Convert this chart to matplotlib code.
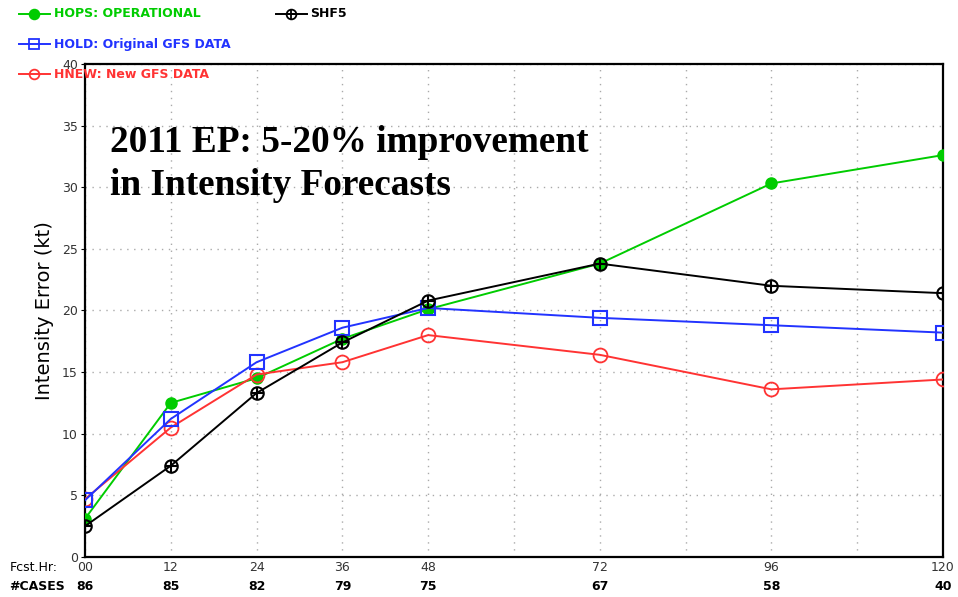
import matplotlib
matplotlib.use("Agg")
import matplotlib.pyplot as plt
import matplotlib.transforms as mtransforms
from matplotlib.lines import Line2D

# forecast hours and verification sample sizes
fcst_hr = [0, 12, 24, 36, 48, 72, 96, 120]
hr_labels = ["00", "12", "24", "36", "48", "72", "96", "120"]
n_cases = [86, 85, 82, 79, 75, 67, 58, 40]

# mean intensity error (kt) per model
hops = [3.1, 12.5, 14.5, 17.7, 20.1, 23.8, 30.3, 32.6]
hold = [4.6, 11.2, 15.8, 18.6, 20.2, 19.4, 18.8, 18.2]
hnew = [4.7, 10.5, 14.8, 15.8, 18.0, 16.4, 13.6, 14.4]
shf5 = [2.5, 7.4, 13.3, 17.4, 20.8, 23.8, 22.0, 21.4]

GREEN = "#00cc00"
BLUE = "#2233ff"
RED = "#ff3333"

fig = plt.figure(figsize=(9.58, 5.97), dpi=100)
ax = fig.add_axes([0.0887, 0.067, 0.8956, 0.826])

ax.plot(fcst_hr, hops, color=GREEN, lw=1.4, marker="o", ms=8,
        mfc=GREEN, mec=GREEN, zorder=3)
ax.plot(fcst_hr, hold, color=BLUE, lw=1.4, marker="s", ms=10,
        mfc="none", mec=BLUE, mew=1.5, zorder=4)
ax.plot(fcst_hr, hnew, color=RED, lw=1.4, marker="o", ms=10,
        mfc="none", mec=RED, mew=1.3, zorder=3)
ax.plot(fcst_hr, shf5, color="black", lw=1.4, marker="o", ms=9,
        mfc="none", mec="black", mew=1.5, zorder=5)
ax.plot(fcst_hr, shf5, ls="none", marker="+", ms=9, mec="black",
        mew=1.5, zorder=5)

ax.set_xlim(0, 120)
ax.set_ylim(0, 40)
ax.set_xticks(range(0, 121, 12))
ax.set_xticklabels([])
ax.set_yticks(range(0, 41, 5))
ax.set_yticklabels([str(v) for v in range(0, 41, 5)], fontsize=9,
                   color="#333333")
ax.tick_params(axis="x", length=0)
ax.tick_params(axis="y", length=3, pad=2)
ax.grid(True, color="#aaaaaa", ls=(0, (1, 4)), lw=1)
for sp in ax.spines.values():
    sp.set_linewidth(1.6)
ax.set_ylabel("Intensity Error (kt)", fontsize=14, labelpad=6)

# forecast hour / sample size rows under the axis
row_tf = mtransforms.blended_transform_factory(ax.transData, fig.transFigure)
for h, lab, n in zip(fcst_hr, hr_labels, n_cases):
    ax.text(h, 0.050, lab, ha="center", va="center", fontsize=9,
            color="#333333", transform=row_tf, clip_on=False)
    ax.text(h, 0.018, str(n), ha="center", va="center", fontsize=9,
            fontweight="bold", transform=row_tf, clip_on=False)
fig.text(0.010, 0.050, "Fcst.Hr:", fontsize=9, va="center")
fig.text(0.010, 0.018, "#CASES", fontsize=9, va="center", fontweight="bold")


# legend entries across the top
def legend_item(x, y, color, marker, text, mfc="none"):
    fig.add_artist(Line2D([x, x + 0.032], [y, y], color=color, lw=1.4,
                          transform=fig.transFigure))
    fig.add_artist(Line2D([x + 0.016], [y], color=color, marker=marker,
                          ms=7, mfc=mfc, mec=color, mew=1.3,
                          transform=fig.transFigure))
    fig.text(x + 0.036, y, text, color=color, fontsize=9,
             fontweight="bold", va="center")


legend_item(0.020, 0.977, GREEN, "o", "HOPS: OPERATIONAL", mfc=GREEN)
legend_item(0.020, 0.926, BLUE, "s", "HOLD: Original GFS DATA")
legend_item(0.020, 0.876, RED, "o", "HNEW: New GFS DATA")
legend_item(0.288, 0.977, "black", "o", "SHF5")
fig.add_artist(Line2D([0.304], [0.977], color="black", marker="+", ms=7,
                      mew=1.3, transform=fig.transFigure))

ax.text(0.029, 0.877, "2011 EP: 5-20% improvement\nin Intensity Forecasts",
        transform=ax.transAxes, fontsize=26.8, fontweight="bold",
        family="Liberation Serif", va="top", ha="left", linespacing=1.3)

fig.savefig("out.png", dpi=100)
